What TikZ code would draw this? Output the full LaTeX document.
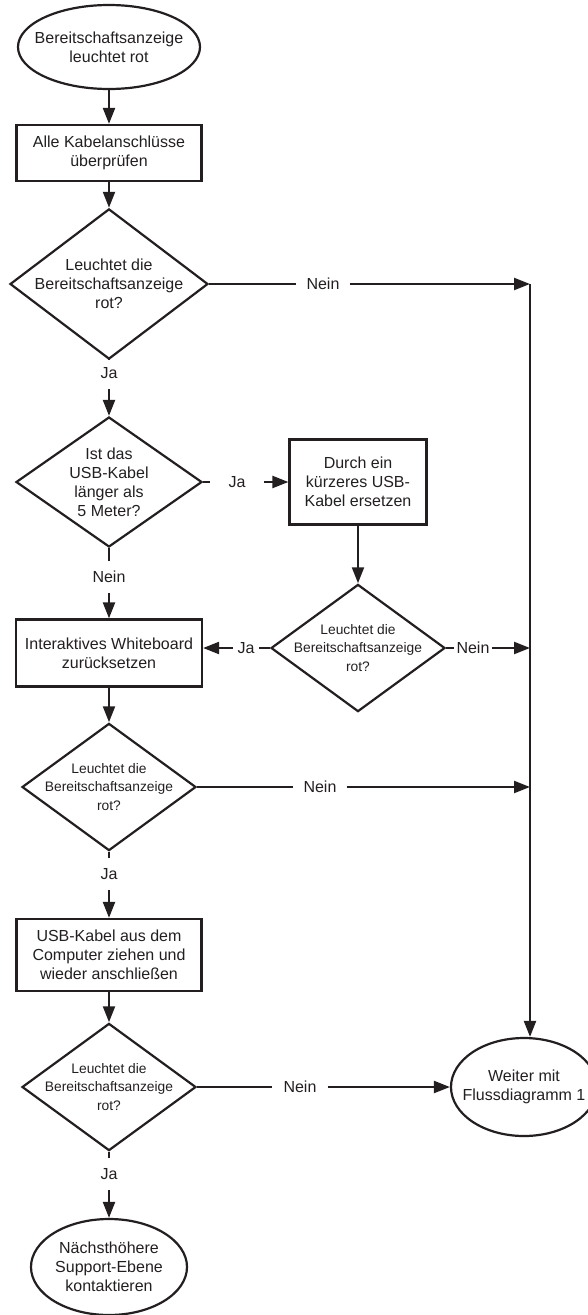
\documentclass[tikz,border=0pt]{standalone}
\usepackage{fontspec}
\setmainfont{Liberation Sans}
\usetikzlibrary{shapes.geometric,arrows.meta}
\definecolor{ink}{HTML}{231F20}
\begin{document}
\begin{tikzpicture}[x=1pt,y=-1pt,
  every node/.style={text=ink, font=\fontsize{16}{19}\selectfont},
  base/.style={draw=ink, line width=2.2pt, align=center},
  proc/.style={base, rectangle, inner sep=0pt},
  term/.style={base, ellipse, inner xsep=-20pt, inner ysep=-5pt},
  dec/.style={base, diamond, inner sep=-12pt},
  small/.style={font=\fontsize{13.8}{18.5}\selectfont},
  lab/.style={inner ysep=10pt, inner xsep=0pt},
  line/.style={draw=ink, line width=2.2pt},
  arr/.style={line, -{Triangle[length=16pt,width=12pt]}},
]
\useasboundingbox (0,0) rectangle (587,1315);

\node[term, minimum width=182pt, minimum height=84pt] (s) at (109,47) {Bereitschaftsanzeige\\leuchtet rot};
\node[proc, minimum width=185pt, minimum height=56pt] (b1) at (109,153) {Alle Kabelanschlüsse\\überprüfen};
\node[dec, minimum width=198pt, minimum height=122pt] (d1) at (109,284) {Leuchtet die\\Bereitschaftsanzeige\\rot?};
\node[lab] (j1) at (109,373) {Ja};
\node[lab, inner xsep=10pt] (n1) at (323,284) {Nein};
\coordinate (vt) at (530,284);

\node[dec, minimum width=186pt, minimum height=130pt] (d2) at (109,482) {Ist das\\USB-Kabel\\länger als\\5 Meter?};
\node[lab, inner xsep=18.5pt] (j2) at (237,482) {Ja};
\node[proc, minimum width=137pt, minimum height=85pt] (b2) at (358,482) {Durch ein\\kürzeres USB-\\Kabel ersetzen};
\node[lab] (n2) at (109,577) {Nein};

\node[dec, small, minimum width=174pt, minimum height=124pt] (d3) at (358,648) {Leuchtet die\\Bereitschaftsanzeige\\rot?};
\node[lab, inner xsep=4.5pt] (j3) at (246,648) {Ja};
\node[lab, inner xsep=2.5pt] (n3) at (473,648) {Nein};
\node[proc, minimum width=186pt, minimum height=67pt] (b3) at (109,653) {Interaktives Whiteboard\\zurücksetzen};

\node[dec, small, minimum width=174pt, minimum height=124pt] (d4) at (109,787) {Leuchtet die\\Bereitschaftsanzeige\\rot?};
\node[lab, inner xsep=10pt] (n4) at (320,787) {Nein};
\node[lab] (j4) at (109,874) {Ja};

\node[proc, minimum width=185pt, minimum height=72pt] (b4) at (109,955) {USB-Kabel aus dem\\Computer ziehen und\\wieder anschließen};
\node[dec, small, minimum width=174pt, minimum height=122pt] (d5) at (109,1087) {Leuchtet die\\Bereitschaftsanzeige\\rot?};
\node[lab, inner xsep=11pt] (n5) at (300,1087) {Nein};
\node[term, minimum width=146pt, minimum height=98pt] (e2) at (524,1087) {Weiter mit\\Flussdiagramm 1};
\node[lab] (j5) at (109,1174) {Ja};
\node[term, minimum width=156pt, minimum height=96pt] (e3) at (109,1267) {Nächsthöhere\\Support-Ebene\\kontaktieren};

\draw[arr] (s) -- (b1);
\draw[arr] (b1) -- (d1);
\draw[line] (d1.east) -- (n1.west);
\draw[arr] (n1.east) -- (vt);
\draw[line] (d1.south) -- (j1.north);
\draw[arr] (j1.south) -- (d2.north);
\draw[line] (d2.east) -- (j2.west);
\draw[arr] (j2.east) -- (b2.west);
\draw[arr] (b2) -- (d3);
\draw[line] (d2.south) -- (n2.north);
\draw[arr] (n2.south) -- (b3.north);
\draw[line] (d3.west) -- (j3.east);
\draw[arr] (j3.west) -- (j3.west -| b3.east);
\draw[line] (d3.east) -- (n3.west);
\draw[arr] (n3.east) -- (n3.east -| vt);
\draw[arr] (b3) -- (d4);
\draw[line] (d4.east) -- (n4.west);
\draw[arr] (n4.east) -- (n4.east -| vt);
\draw[line] (d4.south) -- (j4.north);
\draw[arr] (j4.south) -- (b4.north);
\draw[arr] (b4) -- (d5);
\draw[line] (d5.east) -- (n5.west);
\draw[arr] (n5.east) -- (e2.west);
\draw[line] (d5.south) -- (j5.north);
\draw[arr] (j5.south) -- (e3.north);
\draw[arr] (vt) -- (vt |- e2.north);
\end{tikzpicture}
\end{document}
